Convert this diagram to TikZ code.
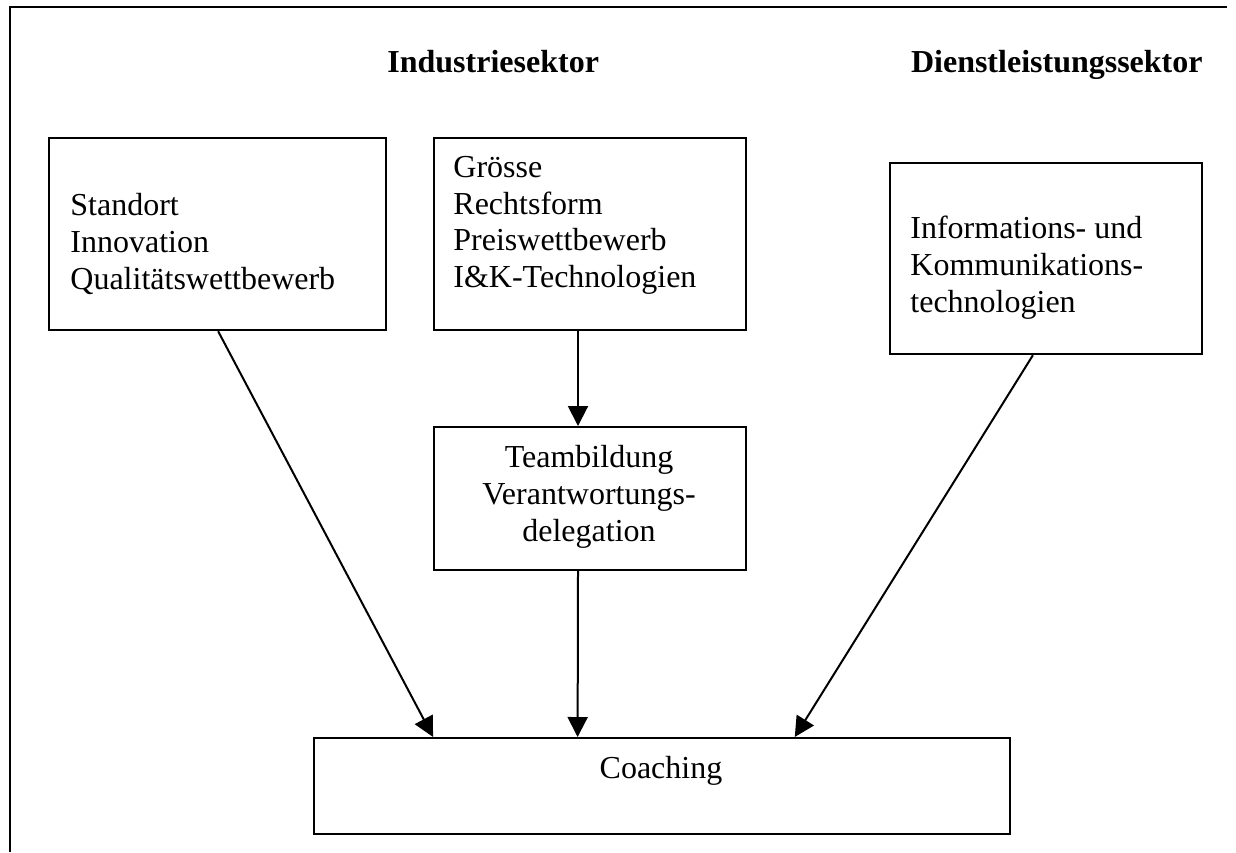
\documentclass[tikz,border=0pt]{standalone}
\usepackage{fontspec}
\setmainfont{Liberation Serif}
\usetikzlibrary{arrows.meta,calc}
\begin{document}
\begin{tikzpicture}[x=0.5pt,y=-0.5pt,
  box/.style={draw,line width=1.1pt,rectangle,inner sep=0pt,anchor=north west},
  txt/.style={inner sep=0pt,font=\fontsize{16}{18.35}\selectfont},
  head/.style={inner sep=0pt,font=\fontsize{16}{18.35}\selectfont\bfseries},
  conn/.style={line width=1pt,-{Triangle[length=10pt,width=10pt]}},
  frameline/.style={line width=1.4pt}]
\useasboundingbox (0,0) rectangle (1236,852);
% outer frame (top and left edges visible)
\coordinate (fL) at (10,852);
\coordinate (fTL) at (10,7);
\coordinate (fR) at (1227,7);
\draw[frameline] (fL) -- (fTL) -- (fR);
% headings
\node[head,anchor=base west] (h1) at (387,72) {Industriesektor};
\node[head,anchor=base east] (h2) at (1203,72) {Dienstleistungssektor};
% boxes
\node[box,minimum width=168.5pt,minimum height=96pt] (A) at (48,137) {};
\node[box,minimum width=156pt,minimum height=96pt] (B) at (433,137) {};
\node[box,minimum width=156pt,minimum height=95.5pt] (C) at (889,162) {};
\node[box,minimum width=156pt,minimum height=71.5pt] (D) at (433,426) {};
\node[box,minimum width=348pt,minimum height=48pt] (Co) at (313,737) {};
% texts
\node[txt,anchor=north west,align=left] (At) at (70,193) {Standort\\Innovation\\Qualitätswettbewerb};
\node[txt,anchor=north west,align=left] (Bt) at (453,156) {Grösse\\Rechtsform\\Preiswettbewerb\\I\&K-Technologien};
\node[txt,anchor=north west,align=left] (Ct) at (910,216) {Informations- und\\Kommunikations-\\technologien};
\node[txt,anchor=north,align=center] (Dt) at (589,445) {Teambildung\\Verantwortungs-\\delegation};
\node[txt,anchor=base] (Cot) at (661,778) {Coaching};
% connectors
\draw[conn] ($(A.south west)!0.5015!(A.south east)$) -- ($(Co.north west)!0.172!(Co.north east)$);
\draw[conn] ($(B.south west)!0.4615!(B.south east)$) -- ($(D.north west)!0.4615!(D.north east)$);
\draw[conn] ($(D.south west)!0.4615!(D.south east)$) -- ($(Co.north west)!0.379!(Co.north east)$);
\draw[conn] ($(C.south west)!0.458!(C.south east)$) -- ($(Co.north west)!0.69!(Co.north east)$);
\end{tikzpicture}
\end{document}
